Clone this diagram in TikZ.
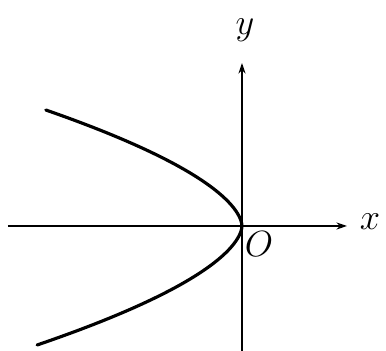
\documentclass[tikz,border=0pt]{standalone}
\usepackage{tikz}
\usetikzlibrary{arrows.meta, positioning}

\begin{document}
\begin{tikzpicture}[
    x=0.02cm, y=0.02cm,
    >={Stealth[length=6pt,width=4pt]},
    axis/.style={line width=0.9pt, ->},
    curve/.style={line width=1.8pt, line cap=round},
    lbl/.style={font=\huge\itshape, inner sep=0pt}
]
\useasboundingbox (-242,-125) rectangle (144,226);

% Axes
\coordinate (xstart) at (-234,0);
\coordinate (xend) at (105,0);
\coordinate (ystart) at (0,-125);
\coordinate (yend) at (0,163);
\draw[axis] (xstart) -- (xend);
\draw[axis] (ystart) -- (yend);

% Labels
\node[lbl] (xlabel) at (128,4) {$x$};
\node[lbl] (ylabel) at (3,196) {$y$};
\node[lbl] (origin) at (17,-18) {$O$};

% Curve
\draw[curve] plot[domain=-119:116, samples=80, smooth] ({-0.0607*abs(\x)^1.7}, \x);

\end{tikzpicture}
\end{document}
